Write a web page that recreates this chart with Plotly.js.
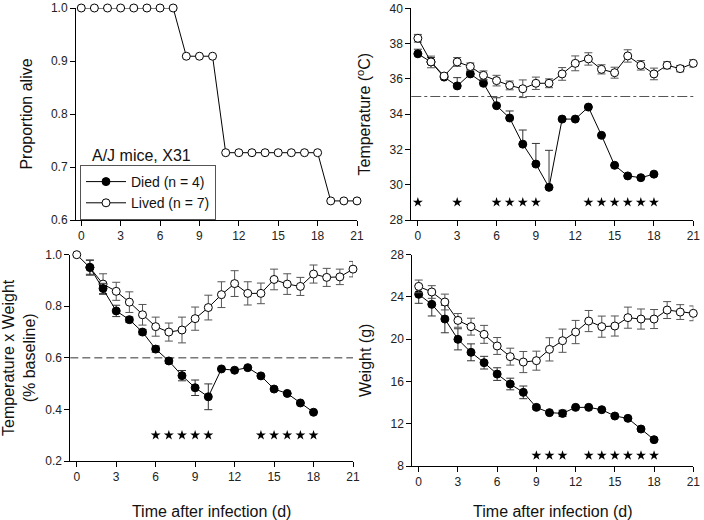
<!DOCTYPE html>
<html>
<head>
<meta charset="utf-8">
<script src="https://cdn.plot.ly/plotly-3.0.1.min.js"></script>
<style>html,body{margin:0;padding:0;background:#fff}#chart{width:704px;height:520px}</style>
</head>
<body>
<div id="chart"></div>
<script>
// ---------- data ----------
const days = [0,1,2,3,4,5,6,7,8,9,10,11,12,13,14,15,16,17,18,19,20,21];
const diedDays = [0,1,2,3,4,5,6,7,8,9,10,11,12,13,14,15,16,17,18];

// Panel A: survival (proportion alive)
const survival = [1,1,1,1,1,1,1,1,0.909,0.909,0.909,0.727,0.727,0.727,0.727,0.727,0.727,0.727,0.727,0.636,0.636,0.636];

// Panel B: temperature (deg C)
const tempLived = [38.30,36.96,36.16,36.96,36.70,36.20,35.90,35.63,35.44,35.75,35.75,36.28,36.88,37.13,36.54,36.35,37.30,36.77,36.28,36.77,36.58,36.88];
const tempLivedErr = [0.22,0.33,0.15,0.25,0.20,0.25,0.30,0.25,0.50,0.35,0.25,0.36,0.42,0.35,0.26,0.31,0.35,0.27,0.33,0.20,0.18,0.21];
const tempDied = [37.42,36.96,36.10,35.60,36.28,35.75,34.48,33.78,32.30,31.17,29.85,33.72,33.72,34.40,32.80,31.10,30.50,30.40,30.60];
const tempDiedErr = [0.26,0.25,0.15,0.47,0.15,0.19,0.45,0.40,0.80,1.17,2.10,0,0,0,0,0,0,0,0];
const tempThreshold = [35];
const tempStarDays = [0,3,6,7,8,9,13,14,15,16,17,18];
const tempStarLevel = 29;

// Panel C: temperature x weight (fraction of baseline)
const twLived = [1.0,0.95,0.886,0.858,0.816,0.767,0.721,0.700,0.708,0.752,0.795,0.845,0.888,0.850,0.850,0.904,0.886,0.877,0.925,0.912,0.914,0.944];
const twLivedErr = [0,0.03,0.04,0.035,0.04,0.04,0.037,0.035,0.05,0.045,0.048,0.05,0.05,0.045,0.04,0.04,0.04,0.035,0.035,0.035,0.03,0.03];
const twDiedDays = [1,2,3,4,5,6,7,8,9,10,11,12,13,14,15,16,17,18];
const twDied = [0.951,0.869,0.782,0.748,0.700,0.634,0.588,0.531,0.484,0.449,0.557,0.552,0.562,0.530,0.479,0.462,0.425,0.389];
const twDiedErr = [0.027,0.02,0.022,0.01,0.01,0.012,0.01,0.02,0.03,0.05,0,0,0,0,0,0,0,0];
const twThreshold = [0.6];
const twStarDays = [6,7,8,9,10,14,15,16,17,18];
const twStarLevel = 0.3;

// Panel D: weight (g)
const wLived = [25.0,24.47,23.52,21.78,21.19,20.46,19.36,18.35,17.84,17.97,19.04,19.86,20.68,21.72,21.19,21.25,22.04,21.91,21.91,22.76,22.57,22.45];
const wLivedErr = [0.6,0.6,0.75,0.65,0.8,0.85,0.8,0.8,1.0,0.9,1.1,1.1,1.1,1.0,1.0,0.95,1.0,0.95,0.9,0.8,0.7,0.7];
const wDied = [24.25,23.30,21.91,19.99,18.76,17.78,16.70,15.76,14.97,13.55,13.05,12.98,13.55,13.55,13.33,12.73,12.51,11.50,10.49];
const wDiedErr = [0.85,1.1,1.3,1.0,0.8,0.6,0.6,0.55,0.6,0.2,0,0.3,0,0,0,0,0,0,0];
const wStarDays = [9,10,11,13,14,15,16,17,18];
const wStarLevel = 9;

const xTickVals = [0,3,6,9,12,15,18,21];

// ---------- styles ----------
const FONT = "Liberation Sans, Arial, sans-serif";
const lineStyle = {color:'#000', width:1};
const openMarker = {symbol:'circle', size:8, color:'#fff', line:{color:'#000', width:1}};
const filledMarker = {symbol:'circle', size:8, color:'#000', line:{color:'#000', width:1}};
const starMarker = {symbol:'star', size:7.5, color:'#000', line:{width:0}};
function errSym(arr, col){ return {type:'data', array:arr, visible:true, color:col, thickness:1, width:4}; }
function errUp(arr, col){ return {type:'data', symmetric:false, array:arr, arrayminus:arr.map(()=>0), visible:true, color:col, thickness:1, width:4}; }

const traces = [
  // Panel A
  {x:days, y:survival, xaxis:'x', yaxis:'y', mode:'lines+markers', line:lineStyle, marker:openMarker, showlegend:false, cliponaxis:false},
  // Panel B
  {x:diedDays, y:tempDied, xaxis:'x2', yaxis:'y2', mode:'lines+markers', name:'Died (n = 4)', line:lineStyle, marker:filledMarker, error_y:errUp(tempDiedErr,'#333'), cliponaxis:false},
  {x:days, y:tempLived, xaxis:'x2', yaxis:'y2', mode:'lines+markers', name:'Lived (n = 7)', line:lineStyle, marker:openMarker, error_y:errSym(tempLivedErr,'#555'), cliponaxis:false},
  {x:tempStarDays, y:tempStarDays.map(()=>tempStarLevel), xaxis:'x2', yaxis:'y2', mode:'markers', marker:starMarker, showlegend:false, cliponaxis:false},
  // Panel C
  {x:days, y:twLived, xaxis:'x3', yaxis:'y3', mode:'lines+markers', line:lineStyle, marker:openMarker, error_y:errSym(twLivedErr,'#555'), showlegend:false, cliponaxis:false},
  {x:twDiedDays, y:twDied, xaxis:'x3', yaxis:'y3', mode:'lines+markers', line:lineStyle, marker:filledMarker, error_y:errSym(twDiedErr,'#333'), showlegend:false, cliponaxis:false},
  {x:twStarDays, y:twStarDays.map(()=>twStarLevel), xaxis:'x3', yaxis:'y3', mode:'markers', marker:starMarker, showlegend:false, cliponaxis:false},
  // Panel D
  {x:diedDays, y:wDied, xaxis:'x4', yaxis:'y4', mode:'lines+markers', line:lineStyle, marker:filledMarker, error_y:errSym(wDiedErr,'#333'), showlegend:false, cliponaxis:false},
  {x:days, y:wLived, xaxis:'x4', yaxis:'y4', mode:'lines+markers', line:lineStyle, marker:openMarker, error_y:errSym(wLivedErr,'#555'), showlegend:false, cliponaxis:false},
  {x:wStarDays, y:wStarDays.map(()=>wStarLevel), xaxis:'x4', yaxis:'y4', mode:'markers', marker:starMarker, showlegend:false, cliponaxis:false}
];

const W = 704, H = 520;
const px = v => v / W;
const py = v => 1 - v / H;

function xAxis(domL, domR, r0, anchor, title){
  const a = {domain:[px(domL), px(domR)], range:[r0, 21], anchor:anchor,
    tickmode:'array', tickvals:xTickVals, ticks:'outside', ticklen:5, tickwidth:1, tickcolor:'#000',
    showline:true, linecolor:'#000', linewidth:1, showgrid:false, zeroline:false,
    tickfont:{family:FONT, size:12, color:'#222'}, fixedrange:true};
  if (title) a.title = {text:title, font:{family:FONT, size:16, color:'#111'}, standoff:22};
  return a;
}
function yAxis(top, bottom, range, dtick, anchor, title, fmt, standoff){
  return {domain:[py(bottom), py(top)], range:range, anchor:anchor,
    dtick:dtick, tick0:range[0], ticks:'outside', ticklen:5, tickwidth:1, tickcolor:'#000',
    showline:true, linecolor:'#000', linewidth:1, showgrid:false, zeroline:false,
    tickformat:fmt || '', tickfont:{family:FONT, size:12, color:'#222'},
    title:{text:title, font:{family:FONT, size:16, color:'#111'}, standoff:standoff}, fixedrange:true};
}

const layout = {
  width:W, height:H, margin:{l:0, r:0, t:0, b:0}, paper_bgcolor:'#fff', plot_bgcolor:'#fff',
  font:{family:FONT, color:'#111'},
  xaxis:  xAxis(76, 357, -0.4, 'y', null),
  yaxis:  yAxis(8, 220, [0.6, 1.0], 0.1, 'x', 'Proportion alive', '.1f', 14),
  xaxis2: xAxis(411.3, 693.3, -0.5, 'y2', null),
  yaxis2: yAxis(8.3, 220, [28, 40], 2, 'x2', 'Temperature (<sup>o</sup>C)', '', 14),
  xaxis3: xAxis(70.3, 353, -0.49, 'y3', 'Time after infection (d)'),
  yaxis3: yAxis(254.7, 461, [0.2, 1.0], 0.2, 'x3', 'Temperature x Weight<br>(% baseline)', '.1f', 10),
  xaxis4: xAxis(412.3, 693.3, -0.49, 'y4', 'Time after infection (d)'),
  yaxis4: yAxis(254.7, 466, [8, 28], 4, 'x4', 'Weight (g)', '', 14),
  shapes: [
    {type:'line', xref:'x2 domain', x0:0, x1:1, yref:'y2', y0:tempThreshold[0], y1:tempThreshold[0],
     line:{color:'#555', width:1, dash:'10px,3px,3px,3px'}, layer:'below'},
    {type:'line', xref:'x3 domain', x0:0, x1:1, yref:'y3', y0:twThreshold[0], y1:twThreshold[0],
     line:{color:'#333', width:1, dash:'8px,4px'}, layer:'below'}
  ],
  annotations: [
    {text:'A/J mice, X31', xref:'paper', yref:'paper', x:px(141), y:py(155), xanchor:'center', yanchor:'middle',
     showarrow:false, font:{family:FONT, size:16, color:'#111'}}
  ],
  showlegend:true,
  legend:{x:px(80), y:py(165), xanchor:'left', yanchor:'top', bordercolor:'#555', borderwidth:1,
    bgcolor:'#fff', font:{family:FONT, size:14, color:'#111'}, tracegroupgap:0, itemwidth:40}
};

Plotly.newPlot('chart', traces, layout, {staticPlot:true, displayModeBar:false});
</script>
</body>
</html>
